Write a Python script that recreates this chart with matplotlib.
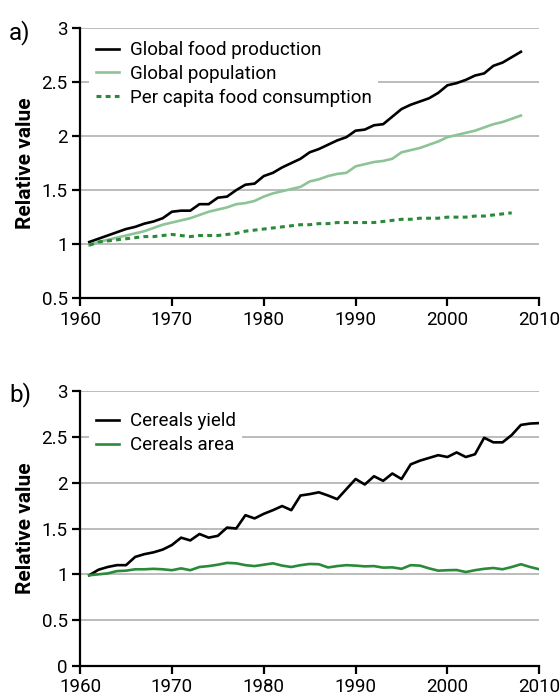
import numpy as np
import matplotlib.pyplot as plt

plt.rcParams['font.family'] = ['Roboto', 'DejaVu Sans']

# panel a: relative to 1961
years_a = np.arange(1961, 2009)
food_production = [1.02, 1.05, 1.08, 1.11, 1.14, 1.16, 1.19, 1.21, 1.24, 1.30,
                   1.31, 1.31, 1.37, 1.37, 1.43, 1.44, 1.50, 1.55, 1.56, 1.63,
                   1.66, 1.71, 1.75, 1.79, 1.85, 1.88, 1.92, 1.96, 1.99, 2.05,
                   2.06, 2.10, 2.11, 2.18, 2.25, 2.29, 2.32, 2.35, 2.40, 2.47,
                   2.49, 2.52, 2.56, 2.58, 2.65, 2.68, 2.73, 2.78]
population = [0.99, 1.02, 1.04, 1.06, 1.08, 1.10, 1.12, 1.15, 1.18, 1.20,
              1.22, 1.24, 1.27, 1.30, 1.32, 1.34, 1.37, 1.38, 1.40, 1.44,
              1.47, 1.49, 1.51, 1.53, 1.58, 1.60, 1.63, 1.65, 1.66, 1.72,
              1.74, 1.76, 1.77, 1.79, 1.85, 1.87, 1.89, 1.92, 1.95, 1.99,
              2.01, 2.03, 2.05, 2.08, 2.11, 2.13, 2.16, 2.19]
years_pc = np.arange(1961, 2008)
per_capita = [0.99, 1.02, 1.03, 1.04, 1.05, 1.06, 1.07, 1.07, 1.08, 1.09,
              1.08, 1.07, 1.08, 1.08, 1.08, 1.09, 1.10, 1.12, 1.13, 1.14,
              1.15, 1.16, 1.17, 1.18, 1.18, 1.19, 1.19, 1.20, 1.20, 1.20,
              1.20, 1.20, 1.21, 1.22, 1.23, 1.23, 1.24, 1.24, 1.24, 1.25,
              1.25, 1.25, 1.26, 1.26, 1.27, 1.28, 1.29]

# panel b
years_b = np.arange(1961, 2011)
cereal_yield = [0.99, 1.05, 1.08, 1.10, 1.10, 1.19, 1.22, 1.24, 1.27, 1.32,
                1.40, 1.37, 1.44, 1.40, 1.42, 1.51, 1.50, 1.645, 1.61, 1.66,
                1.70, 1.745, 1.70, 1.86, 1.875, 1.895, 1.86, 1.82, 1.93, 2.04,
                1.98, 2.07, 2.02, 2.10, 2.04, 2.20, 2.24, 2.27, 2.30, 2.28,
                2.33, 2.28, 2.31, 2.49, 2.44, 2.44, 2.52, 2.63, 2.645, 2.65]
cereal_area = [0.99, 1.00, 1.01, 1.035, 1.04, 1.055, 1.055, 1.06, 1.055, 1.045,
               1.065, 1.045, 1.08, 1.09, 1.105, 1.125, 1.12, 1.10, 1.09, 1.105,
               1.12, 1.095, 1.08, 1.10, 1.113, 1.11, 1.075, 1.09, 1.10, 1.095,
               1.087, 1.09, 1.073, 1.076, 1.06, 1.10, 1.095, 1.065, 1.04, 1.045,
               1.047, 1.025, 1.045, 1.06, 1.069, 1.055, 1.08, 1.11, 1.08, 1.055]

light_green = '#8dc497'
dark_green = '#2a8a3a'
fs = 13.5

fig = plt.figure(figsize=(5.6, 7), dpi=100)
ax1 = fig.add_axes([0.143, 0.574, 0.82, 0.386])
ax2 = fig.add_axes([0.143, 0.0486, 0.82, 0.3928])


def style_axis(ax, ymin, yticks):
    ax.set_xlim(1960, 2010)
    ax.set_ylim(ymin, 3)
    ax.set_xticks(range(1960, 2011, 10))
    ax.set_yticks(yticks)
    ax.set_yticklabels(['%g' % t for t in yticks])
    for t in yticks[1:]:
        ax.axhline(t, color='#aaaaaa', lw=1.1, zorder=0)
    for s in ['top', 'right']:
        ax.spines[s].set_visible(False)
    for s in ['left', 'bottom']:
        ax.spines[s].set_linewidth(1.6)
    ax.tick_params(axis='both', direction='out', width=1.6, length=6,
                   labelsize=fs, pad=3)
    ax.set_ylabel('Relative value', fontsize=fs + 1.5, fontweight='bold',
                  labelpad=5)


ax1.plot(years_a, food_production, color='black', lw=1.9,
         label='Global food production')
ax1.plot(years_a, population, color=light_green, lw=1.9,
         label='Global population')
ax1.plot(years_pc, per_capita, color=dark_green, lw=2.2,
         linestyle=(0, (1.6, 1.4)), label='Per capita food consumption')
style_axis(ax1, 0.5, [0.5, 1, 1.5, 2, 2.5, 3])
ax1.legend(loc='upper left', bbox_to_anchor=(0.0, 1.01), fontsize=fs,
           frameon=True, facecolor='white', edgecolor='none',
           framealpha=1, fancybox=False, handlelength=1.25,
           handletextpad=0.55, labelspacing=0.3, borderpad=0.35)

ax2.plot(years_b, cereal_yield, color='black', lw=1.9, label='Cereals yield')
ax2.plot(years_b, cereal_area, color=dark_green, lw=1.9, label='Cereals area')
style_axis(ax2, 0, [0, 0.5, 1, 1.5, 2, 2.5, 3])
ax2.legend(loc='upper left', bbox_to_anchor=(0.0, 0.98), fontsize=fs,
           frameon=True, facecolor='white', edgecolor='none',
           framealpha=1, fancybox=False, handlelength=1.25,
           handletextpad=0.55, labelspacing=0.3, borderpad=0.35)

fig.text(0.016, 0.943, 'a)', fontsize=fs + 4)
fig.text(0.016, 0.426, 'b)', fontsize=fs + 4)

fig.savefig('out.png', dpi=100)
